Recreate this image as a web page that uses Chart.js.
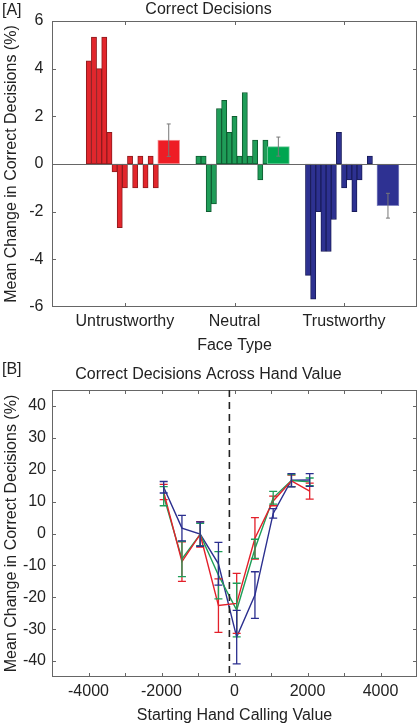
<!DOCTYPE html>
<html>
<head>
<meta charset="utf-8">
<title>Correct Decisions</title>
<script src="https://cdn.jsdelivr.net/npm/chart.js@4.4.1/dist/chart.umd.min.js"></script>
<style>
  body { margin: 0; background: #fff; font-family: "Liberation Sans", Arial, sans-serif; }
  .panel { position: relative; width: 420px; }
  .panel canvas { display: block; }
  .tag { position: absolute; left: 2px; font-size: 16px; line-height: 19px; color: #222; z-index: 2; }
</style>
</head>
<body>
<div class="panel" style="height:355px">
  <canvas id="faceChart" width="420" height="355"></canvas>
  <span class="tag" style="top:0px">[A]</span>
</div>
<div class="panel" style="height:370px">
  <canvas id="handChart" width="420" height="370"></canvas>
  <span class="tag" style="top:4px">[B]</span>
</div>
<script>
// ---- panel A: per-subject change, grouped by face type ----
const faceTypes = ["Untrustworthy", "Neutral", "Trustworthy"];
const untrustworthyBars = [4.33, 5.33, 4.0, 5.33, 1.33, -0.33, -2.67, -1.0, 0.33, -1.0, 0.33, -1.0, 0.33, -1.0];
const neutralBars = [0.33, 0.33, -2.0, -1.67, 2.33, 2.67, 1.33, 2.0, 0.33, 3.0, 0.33, 1.0, -0.67, 1.0];
const trustworthyBars = [-4.67, -5.67, -2.0, -3.67, -3.67, -2.33, 1.33, -1.0, -0.67, -2.0, -0.67, 0, 0.33, 0];
const faceMeans = [1.0, 0.73, -1.75];
const faceErrors = [0.68, 0.4, 0.52];
const faceYTicks = [-6, -4, -2, 0, 2, 4, 6];

// ---- panel B: change across starting hand value ----
const handValues = [-1940, -1440, -940, -440, 60, 560, 1060, 1560, 2060];
const untrustworthyLine = [13.0, -8.8, -0.3, -22.6, -21.9, -1.5, 10.2, 16.5, 13.3];
const untrustworthyErr = [2.4, 6.2, 4.0, 8.4, 9.4, 6.5, 1.5, 1.8, 2.5];
const neutralLine = [11.7, -8.0, -0.3, -13.1, -24.0, -4.8, 11.2, 16.6, 16.2];
const neutralErr = [3.0, 5.5, 3.5, 7.4, 8.4, 3.0, 2.0, 1.9, 1.2];
const trustworthyLine = [14.5, 1.7, -0.2, -9.5, -32.5, -19.3, 6.3, 16.7, 16.8];
const trustworthyErr = [1.8, 4.0, 3.8, 6.7, 8.4, 7.3, 1.5, 2.1, 2.0];
const handXTicks = [-4000, -3000, -2000, -1000, 0, 1000, 2000, 3000, 4000];
const handXLabels = [-4000, -2000, 0, 2000, 4000];
const handYTicks = [-40, -30, -20, -10, 0, 10, 20, 30, 40];
const splitValue = -140;

const FONT = '"Liberation Sans", Arial, sans-serif';
Chart.defaults.font.family = FONT;
Chart.defaults.font.size = 16;
Chart.defaults.color = '#222';

const barFill = ['#E2262C', '#1F9D58', '#2D3191'];
const barEdge = ['#8E1B1E', '#0F5B31', '#191C5A'];
const meanFill = ['#EE1D25', '#00A650', '#2E3192'];
const meanEdge = ['#F59A9D', '#66C996', '#8487C2'];
const lineColors = ['#E3202A', '#1E9E58', '#2B2F8F'];

const barStep = 0.047;   // width of one subject bar, in category units
const meanOffset = 0.4;  // mean bar sits to the right of each group

// box around the plot with inward ticks, matlab style
const framePlugin = {
  id: 'frame',
  afterDatasetsDraw(chart, args, opts) {
    const { ctx, chartArea: a, scales: { x, y } } = chart;
    ctx.save();
    ctx.strokeStyle = '#666';
    ctx.lineWidth = 1;
    if (opts.zeroLine) {
      const py = Math.round(y.getPixelForValue(0)) + 0.5;
      ctx.beginPath();
      ctx.moveTo(a.left, py);
      ctx.lineTo(a.right, py);
      ctx.stroke();
    }
    ctx.strokeRect(Math.round(a.left) + 0.5, Math.round(a.top) + 0.5, Math.round(a.width) - 1, Math.round(a.height) - 1);
    const len = 4;
    ctx.beginPath();
    x.ticks.forEach(t => {
      const px = Math.round(x.getPixelForValue(t.value)) + 0.5;
      if (px <= a.left + 1 || px >= a.right - 1) return;
      ctx.moveTo(px, a.bottom); ctx.lineTo(px, a.bottom - len);
      ctx.moveTo(px, a.top); ctx.lineTo(px, a.top + len);
    });
    y.ticks.forEach(t => {
      const py = Math.round(y.getPixelForValue(t.value)) + 0.5;
      if (py <= a.top + 1 || py >= a.bottom - 1) return;
      ctx.moveTo(a.left, py); ctx.lineTo(a.left + len, py);
      ctx.moveTo(a.right, py); ctx.lineTo(a.right - len, py);
    });
    ctx.stroke();
    if (opts.split !== undefined) {
      const px = x.getPixelForValue(opts.split);
      ctx.strokeStyle = '#222';
      ctx.lineWidth = 1.6;
      ctx.setLineDash([7, 5]);
      ctx.beginPath();
      ctx.moveTo(px, a.top);
      ctx.lineTo(px, a.bottom);
      ctx.stroke();
    }
    ctx.restore();
  }
};

// vertical error bars for any dataset that carries an errorBars array
const errorBarPlugin = {
  id: 'errorBars',
  afterDatasetsDraw(chart) {
    const { ctx, scales: { x, y } } = chart;
    ctx.save();
    chart.data.datasets.forEach(ds => {
      if (!ds.errorBars) return;
      ctx.strokeStyle = ds.errorColor || ds.borderColor;
      ctx.lineWidth = ds.errorWidth || 1.3;
      const cap = ds.capWidth || 4;
      ds.data.forEach((p, i) => {
        const e = ds.errorBars[i];
        const px = x.getPixelForValue(p.x);
        const top = y.getPixelForValue(p.y + e);
        const bot = y.getPixelForValue(p.y - e);
        ctx.beginPath();
        ctx.moveTo(px, top); ctx.lineTo(px, bot);
        ctx.moveTo(px - cap, top); ctx.lineTo(px + cap, top);
        ctx.moveTo(px - cap, bot); ctx.lineTo(px + cap, bot);
        ctx.stroke();
      });
    });
    ctx.restore();
  }
};

// ---------- panel A ----------
const faceGroups = [untrustworthyBars, neutralBars, trustworthyBars];
const faceDatasets = faceGroups.map((vals, g) => ({
  type: 'bar',
  data: vals.map((v, i) => ({ x: g + 1 + (i - 7) * barStep, y: v })),
  backgroundColor: barFill[g],
  borderColor: barEdge[g],
  borderWidth: 1,
  borderSkipped: false,
  barThickness: 5.2,
  grouped: false
}));
faceDatasets.unshift({
  type: 'bar',
  data: faceMeans.map((m, g) => ({ x: g + 1 + meanOffset, y: m })),
  backgroundColor: meanFill,
  borderColor: meanEdge,
  borderWidth: 1,
  borderSkipped: false,
  barThickness: 22,
  grouped: false,
  errorBars: faceErrors,
  errorColor: '#777',
  errorWidth: 1,
  capWidth: 2
});

new Chart(document.getElementById('faceChart'), {
  type: 'bar',
  data: { datasets: faceDatasets },
  options: {
    responsive: false,
    animation: false,
    layout: { padding: { left: 0, right: 3, top: 0, bottom: 0 } },
    plugins: {
      legend: { display: false },
      tooltip: { enabled: false },
      title: {
        display: true,
        text: 'Correct Decisions',
        font: { size: 16, weight: 'normal' },
        color: '#222',
        padding: { top: 0, bottom: 1.8 }
      },
      frame: { zeroLine: true }
    },
    scales: {
      x: {
        type: 'linear',
        offset: false,
        min: 0.335,
        max: 3.665,
        afterBuildTicks: s => { s.ticks = faceTypes.map((t, i) => ({ value: i + 1 })); },
        afterFit: s => { s.height = 48; },
        ticks: { padding: 5, maxRotation: 0, callback: v => faceTypes[v - 1] },
        grid: { display: false, drawTicks: false, offset: false },
        border: { display: false },
        title: { display: true, text: 'Face Type', font: { size: 16 }, padding: { top: 5.4, bottom: 0 } }
      },
      y: {
        min: -6,
        max: 6,
        afterBuildTicks: s => { s.ticks = faceYTicks.map(v => ({ value: v })); },
        afterFit: s => { s.width = 52; },
        ticks: { padding: 8.5 },
        grid: { display: false, drawTicks: false },
        border: { display: false },
        title: { display: true, text: 'Mean Change in Correct Decisions (%)', font: { size: 16 }, padding: { top: 2.4, bottom: 0 } }
      }
    }
  },
  plugins: [framePlugin, errorBarPlugin]
});

// ---------- panel B ----------
const handSeries = [untrustworthyLine, neutralLine, trustworthyLine];
const handErrors = [untrustworthyErr, neutralErr, trustworthyErr];
const handDatasets = handSeries.map((vals, s) => ({
  label: faceTypes[s],
  data: vals.map((v, i) => ({ x: handValues[i], y: v })),
  borderColor: lineColors[s],
  borderWidth: 1.4,
  pointRadius: 0,
  tension: 0,
  fill: false,
  errorBars: handErrors[s],
  errorWidth: 1.3,
  capWidth: 4
}));

new Chart(document.getElementById('handChart'), {
  type: 'line',
  data: { datasets: handDatasets },
  options: {
    responsive: false,
    animation: false,
    layout: { padding: { left: 0, right: 3, top: 0, bottom: 0 } },
    plugins: {
      legend: { display: false },
      tooltip: { enabled: false },
      title: {
        display: true,
        text: 'Correct Decisions Across Hand Value',
        font: { size: 16, weight: 'normal' },
        color: '#222',
        padding: { top: 10, bottom: 5.8 }
      },
      frame: { split: splitValue }
    },
    scales: {
      x: {
        type: 'linear',
        min: -5000,
        max: 5000,
        afterBuildTicks: s => { s.ticks = handXTicks.map(v => ({ value: v })); },
        afterFit: s => { s.height = 48; },
        ticks: { padding: 5.4, maxRotation: 0, autoSkip: false, callback: v => handXLabels.includes(v) ? String(v) : '' },
        grid: { display: false, drawTicks: false },
        border: { display: false },
        title: { display: true, text: 'Starting Hand Calling Value', font: { size: 16 }, padding: { top: 2.4, bottom: 0 } }
      },
      y: {
        min: -45,
        max: 45,
        afterBuildTicks: s => { s.ticks = handYTicks.map(v => ({ value: v })); },
        afterFit: s => { s.width = 52; },
        ticks: { padding: 6 },
        grid: { display: false, drawTicks: false },
        border: { display: false },
        title: { display: true, text: 'Mean Change in Correct Decisions (%)', font: { size: 16 }, padding: { top: 2.4, bottom: 0 } }
      }
    }
  },
  plugins: [framePlugin, errorBarPlugin]
});
</script>
</body>
</html>
